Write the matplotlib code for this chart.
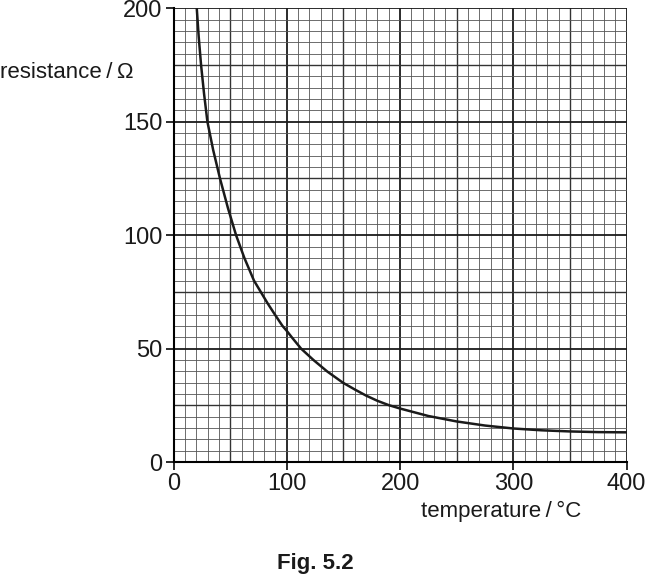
import numpy as np
import matplotlib
matplotlib.use('Agg')
import matplotlib.pyplot as plt

# values
temperature = [20.5, 22.2, 24.3, 26.9, 29.9, 35, 41, 48, 55.2, 62.5, 71, 77,
               83, 89.5, 96.2, 100, 104.4, 112.6, 123.5, 135.5, 149.5, 160, 170,
               180, 190, 200, 225, 250, 275, 300, 325, 350, 375, 400]
resistance = [200, 187.5, 175, 162.5, 150, 137.5, 125, 112, 100, 90, 80, 75,
              70, 65, 60, 57.8, 55, 50, 45, 40, 35, 32, 29.3,
              27, 25.1, 23.6, 20.3, 17.9, 16.1, 14.8, 14, 13.5, 13.2, 13.1]

x_ticks = [0, 100, 200, 300, 400]
y_ticks = [0, 50, 100, 150, 200]

plt.rcParams['font.family'] = ['Liberation Sans', 'DejaVu Sans']

fig = plt.figure(figsize=(6.5, 5.74), dpi=100)
ax = fig.add_axes([0.267, 0.195, 0.697, 0.7905])

ax.set_xlim(0, 400)
ax.set_ylim(0, 200)

# graph paper
for xv in np.arange(0, 401, 10):
    if xv % 100 == 0:
        ax.axvline(xv, color='#1a1a1a', lw=1.3, zorder=1)
    elif xv % 50 == 0:
        ax.axvline(xv, color='#333333', lw=1.0, zorder=1)
    else:
        ax.axvline(xv, color='#555555', lw=0.6, zorder=1)
for yv in np.arange(0, 201, 5):
    if yv % 50 == 0:
        ax.axhline(yv, color='#1a1a1a', lw=1.3, zorder=1)
    elif yv % 25 == 0:
        ax.axhline(yv, color='#333333', lw=1.0, zorder=1)
    else:
        ax.axhline(yv, color='#555555', lw=0.6, zorder=1)

ax.plot(temperature, resistance, color='#1a1a1a', lw=1.8, zorder=3,
        solid_joinstyle='round')

for s in ax.spines.values():
    s.set_visible(False)
ax.spines['left'].set_visible(True)
ax.spines['bottom'].set_visible(True)
ax.spines['left'].set_linewidth(1.5)
ax.spines['bottom'].set_linewidth(1.5)

ax.set_xticks(x_ticks)
ax.set_yticks(y_ticks)
ax.set_xticklabels([str(v) for v in x_ticks])
ax.set_yticklabels([str(v) for v in y_ticks])
ax.tick_params(direction='out', length=6, width=1.3, labelsize=17,
               colors='#1a1a1a', pad=2)

fig.text(0.0, 1 - 73 / 574, 'resistance\u2009/\u2009\u03a9', fontsize=16,
         color='#1a1a1a', ha='left', va='center')
fig.text(581 / 650, 1 - 511 / 574, 'temperature\u2009/\u2009\u00b0C', fontsize=16,
         color='#1a1a1a', ha='right', va='center')
fig.text(315 / 650, 1 - 563 / 574, 'Fig. 5.2', fontsize=16, fontweight='bold',
         color='#1a1a1a', ha='center', va='center')

fig.savefig('out.png', dpi=100)
